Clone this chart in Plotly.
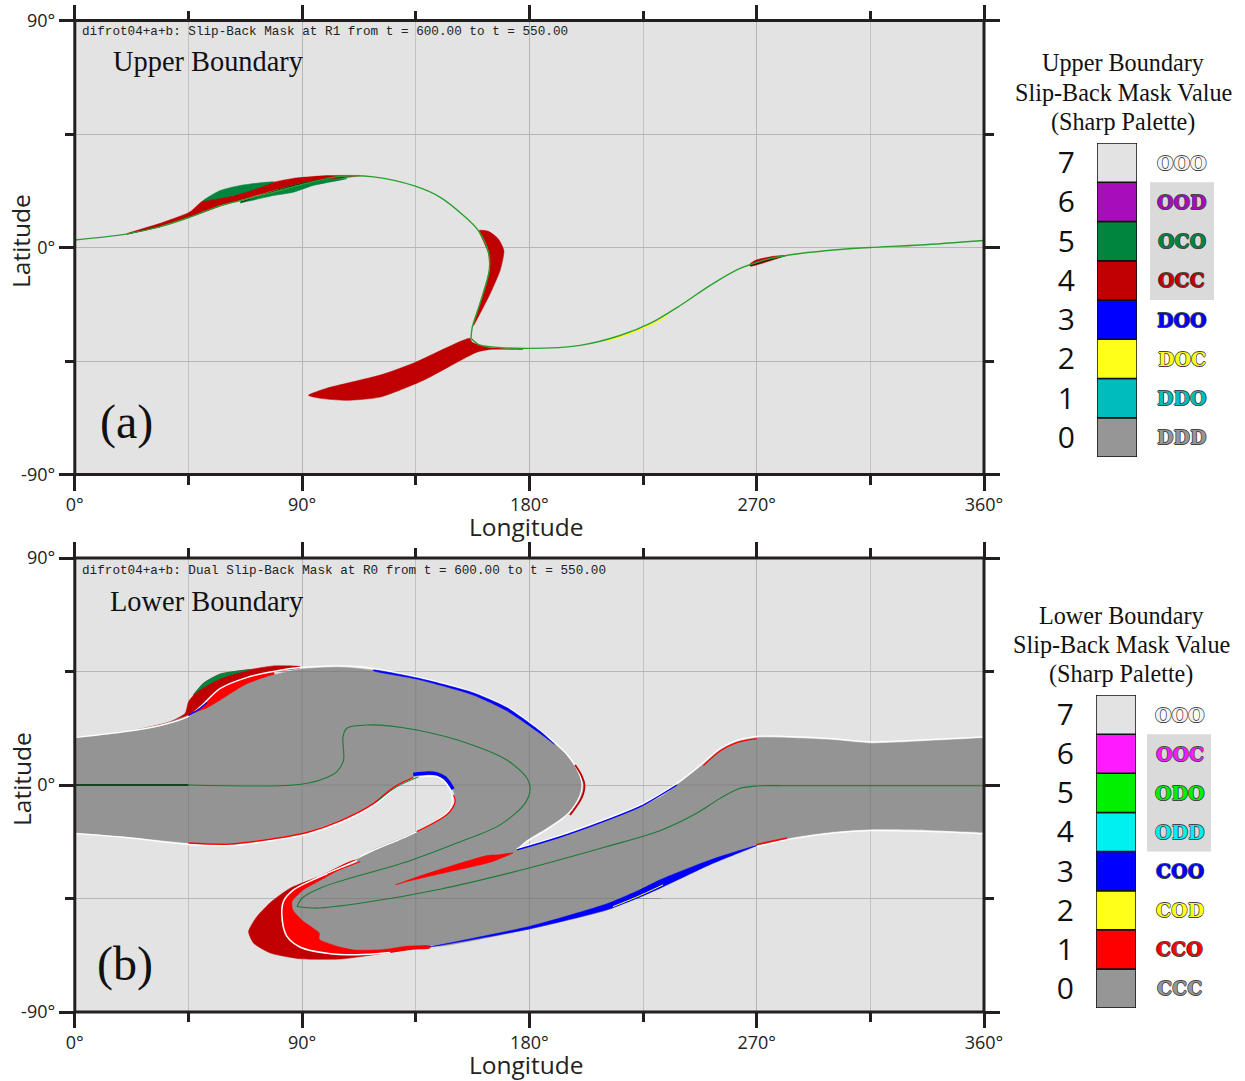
import plotly.graph_objects as go

W, H = 1245, 1081

# ---------- colours ----------
BG = "#e3e3e3"
DARK_RED = "#c00000"
RED = "#ff0000"
DARK_GREEN = "#00853f"
GRAY = "#949494"
BLUE = "#0000ff"
YELLOW = "#ffff1a"
LINE_GREEN = "#2ca02c"
INNER_GREEN = "#1b7a35"

# ---------- legend data ----------
legend_values = [0, 1, 2, 3, 4, 5, 6, 7]
upper_colors = ["#969696", "#00bdbd", "#ffff1a", "#0000ff", "#c00000", "#00853f", "#a80dbb", "#e3e3e3"]
upper_codes = ["DDD", "DDO", "DOC", "DOO", "OCC", "OCO", "OOD", "OOO"]
lower_colors = ["#969696", "#ff0000", "#ffff1a", "#0000ff", "#00f0f0", "#00f000", "#ff1aff", "#e3e3e3"]
lower_codes = ["CCC", "CCO", "COD", "COO", "ODD", "ODO", "OOC", "OOO"]

# ---------- panel (a) ----------
a_line1_lon = [0, 10.1, 20.7, 33.8, 44.9, 57.6, 65.5, 78.6, 89.9, 98, 105.1, 118.3, 134.8, 144.7, 153.9, 159.8, 163.8, 164.1, 160.5, 157.4, 156.9]
a_line1_lat = [3, 4, 5.4, 8.3, 11.8, 16.6, 18.6, 21.9, 25, 26.9, 28.2, 28, 24.3, 19.9, 12.7, 6.7, -1.9, -9, -22, -31.5, -36]
a_line2_lon = [156.9, 159.7, 163.3, 180.3, 200.1, 215.9, 227.8, 239.7, 251.6, 263.4, 275.3, 287.2, 303, 314.9, 334.7, 360]
a_line2_lat = [-36, -38.4, -39.2, -40, -38.8, -34.9, -30.1, -23, -15, -8.3, -4.4, -2.4, -0.8, 0, 1, 2.8]

a_red_main_lon = [20.7, 33.8, 44.4, 46.4, 50.9, 62.7, 73.4, 78.6, 86.5, 99.8, 113, 106.3, 89.9, 78.6, 65.5, 57.6, 49.7, 44.4, 33.8]
a_red_main_lat = [5.5, 9.6, 13.5, 14.7, 18.6, 20.6, 24.6, 25.9, 27.4, 28.5, 28.5, 27.6, 25.5, 22.6, 18.7, 16.4, 13.5, 11.7, 8.2]
a_green_top_lon = [50.9, 57.6, 65.5, 78.6, 73.4, 62.7]
a_green_top_lat = [18.6, 22.6, 24.6, 26.0, 23.9, 20.6]
a_green_low_lon = [65.5, 78.6, 86.5, 94.4, 107.7, 99.8, 89.9, 78.6]
a_green_low_lat = [17.7, 20.6, 21.9, 24.6, 27.3, 27, 25.5, 22.3]
a_red_mid_lon = [160.1, 163.8, 167.7, 169.9, 168.4, 164.5, 160.5, 157.9, 160.5, 164.2, 163.8, 161.7]
a_red_mid_lat = [6.7, 6.4, 3.4, -1.2, -9.1, -18.2, -26.1, -30.9, -22, -9.1, -2.4, 2.8]
a_red_tail_lon = [92.5, 99.8, 120.9, 134, 156.5, 157.2, 163.2, 177.5, 164.5, 159.2, 137.9, 120.9, 107.7, 97.2]
a_red_tail_lat = [-58.6, -55.8, -50.6, -45.9, -36, -37.5, -39.5, -40.4, -40.4, -41.5, -52.7, -59.3, -60.6, -59.8]
a_red_right_lon = [267.4, 270, 277.3, 281.2, 267.4]
a_red_right_lat = [-6.5, -4.9, -3.4, -3.2, -7.4]
a_black_lon = [65.5, 78.6, 89.9, 99.8]
a_black_lat = [18, 22.2, 25.3, 27.2]
a_black2_lon = [267.4, 275, 281.2]
a_black2_lat = [-7.2, -5, -3.3]
a_black3_lon = [20.7, 33.8]
a_black3_lat = [5.3, 8.3]
a_yellow_lon = [210.6, 222, 234.5]
a_yellow_lat = [-37, -33.2, -27.4]

# ---------- panel (b) ----------
b_gray_lon = [-10, 0, 20.7, 33.8, 45, 52.3, 60.2, 68.2, 78.6, 89.3, 105.1, 118.2, 135.4, 157.7, 171.1, 184.3, 194.8, 200.1, 201.4, 200.4, 196.1, 186.9, 179, 175,
              190.9, 210.7, 223.8, 231.7, 238.4, 247.6, 255.5, 262.1, 270, 280.5, 300.2, 314.9, 331.9, 359, 370,
              370, 359, 337.3, 314.9, 300.2, 284.4, 270, 251.6, 231.7, 223.8, 210.7, 180.3, 144.7, 139.4, 131.5, 122.3, 111.7, 103.6, 97, 97, 90.2, 86.5, 86.2, 90.2, 98.2, 112,
              118.2, 135.4, 147.8, 150.6, 149.8, 143.4, 134, 126.1, 118.2, 105.1, 91.9, 78.6, 61.6, 45, 20.7, 0, -10]
b_gray_lat = [17.8, 18.8, 21.4, 23.8, 27.7, 30.4, 35.2, 40, 43.6, 45.9, 46.7, 45.5, 42.4, 36.4, 30.5, 21.1, 11.9, 4.8, 0, -4.6, -11.1, -17, -21.8, -25.7,
              -21, -13.9, -8.6, -4.9, 0, 7.2, 13.9, 17.1, 18.7, 18.7, 17.8, 16.5, 17.1, 18.5, 18.9,
              -19, -18.7, -17.8, -17.5, -18.5, -20.7, -24, -31.5, -40.9, -44.4, -49.5, -57, -63.9, -63.4, -63.7, -65, -65.3, -63.7, -61.1, -58.7, -53.6, -49.5, -46.2, -42, -37.4, -29.5,
              -25.7, -18.5, -11.1, -6.6, -2, 4, 3.3, -0.7, -7.1, -13.9, -18.5, -21, -23.1, -22.9, -20.5, -18.9, -18.2]

b_dark_crescent_lon = [112.2, 98.5, 85.3, 77.9, 72.1, 68.8, 70.8, 77.4, 89.3, 105.1, 118.3, 134.1, 140.7, 128.8]
b_dark_crescent_lat = [-29.7, -35.6, -40.9, -46.2, -52.2, -58.1, -62.7, -66.6, -68.9, -69, -67.3, -65.1, -64.4, -45.5]
b_white_crescent_lon = [111.7, 97.2, 86.6, 82.6, 82.2, 84, 89.3, 99.8, 111.7, 124.9]
b_white_crescent_lat = [-30, -36.3, -41.6, -46.2, -54.1, -60, -64.3, -66.7, -67.3, -66.4]
b_red_crescent_lon = [111.7, 97.2, 86.6, 82.6, 82.2, 84, 89.3, 99.8, 111.7, 124.9, 134, 140.7, 128.8, 113]
b_red_crescent_lat = [-30, -36.3, -41.6, -46.2, -54.1, -60, -64.3, -66.7, -67.3, -66.4, -64.9, -64.4, -45.5, -35]

b_dark_top_lon = [24.6, 37.8, 43.7, 45, 47, 50.9, 57.6, 69.5, 78.6, 89.3, 89.3, 78.6, 68, 57.6, 49.7, 44.4, 33.8]
b_dark_top_lat = [21.8, 25.1, 28.4, 33, 35.6, 40.3, 44, 45.8, 47.2, 46.9, 46.5, 44.9, 42.4, 38.3, 31, 26.7, 23.6]
b_green_top_lon = [46.8, 50.9, 57.6, 69.5, 61.6, 56.3, 48.4]
b_green_top_lat = [35.6, 40.3, 44, 45.8, 43.6, 41.6, 37]
b_red_top_lon = [44.4, 49.7, 57.6, 68, 78.6, 78.6, 52.3]
b_red_top_lat = [26.7, 31, 38.3, 42.4, 44.9, 37.6, 25.7]
b_white_top_lon = [0.6, 20.7, 33.8, 44.4, 49.7, 57.6, 68, 78.6, 89.3, 113, 135.4, 157.7, 171.1, 184.3, 194.8, 199.6, 200.9, 199.9, 195.6, 186.9, 179, 175]
b_white_top_lat = [18.9, 21.3, 23.6, 26.9, 31, 38.3, 42.6, 45, 46.6, 46.9, 42.8, 36.8, 30.9, 21.5, 12.2, 4.8, 0, -4.6, -11.1, -17.6, -22.4, -25.7]
b_blue_top_lon = [118.2, 135.4, 157.7, 171.1, 184.3, 190, 184.3, 171.1, 157.7, 135.4, 118.2]
b_blue_top_lat = [45.6, 42.5, 36.6, 30.7, 21.3, 16.1, 20.4, 29.4, 35.7, 42, 45.3]
b_blue_small_lon = [45, 49, 52.3]
b_blue_small_lat = [27.5, 30, 32.6]
b_tip_lon = [198.1, 200.5, 201.8, 200.8, 196.1]
b_tip_lat = [7.9, 4, 0, -4.8, -11.9]

b_red_low_lon = [45, 61.6, 78.6, 91.9, 105.1, 118.2, 126.1, 134]
b_red_low_lat = [-23, -23.4, -21.3, -18.8, -14.2, -7.4, -1, 3]
b_white_low_lon = [0, 20.7, 45, 61.6, 78.6, 91.9, 105.1, 118.2, 126.1]
b_white_low_lat = [-19.2, -20.9, -23.6, -24.1, -22, -19.6, -15, -8.2, -1.7]
b_hole_green_lon = [119.6, 127.5, 136]
b_hole_green_lat = [-6.6, -0.7, 3.2]
b_hole_blue_lon = [134, 140, 143.4, 146.6, 149.8]
b_hole_blue_lat = [4.2, 4.8, 4.4, 2.8, -1.6]
b_hole_white_lon = [136.7, 144.6, 148.6, 149.4, 147.4, 135.2, 118, 113]
b_hole_white_lat = [3.2, 2.8, -2, -6.7, -11.1, -18.6, -26, -28.4]
b_hole_red_lon = [150, 150.6, 147.8, 135.4]
b_hole_red_lat = [-4, -6.7, -11.3, -18.5]

b_blue_edge_lon = [175, 190.9, 210.7, 223.8, 238.4]
b_blue_edge_lat = [-25.7, -21, -13.9, -8.6, 0]
b_white_edge_lon = [175, 190.9, 210.7, 223.8, 238.4, 247.6, 255.5, 262.1, 270, 280.5, 300.2, 314.9, 331.9, 360]
b_white_edge_lat = [-25.2, -20.3, -13.2, -7.9, 0.6, 7.8, 14.5, 17.7, 19.3, 19.3, 18.4, 17.1, 17.7, 19.1]
b_white_bottom_lon = [270, 284.4, 300.2, 314.9, 337.3, 360]
b_white_bottom_lat = [-24.5, -21.3, -19.1, -18.1, -18.4, -19.4]
b_red_shoulder_lon = [248.9, 255.5, 262.1, 270]
b_red_shoulder_lat = [7.7, 13.5, 16.8, 18.4]
b_blue_low_lon = [140.7, 180.3, 210.7, 223.8, 231.7, 251.6, 270, 251.6, 231.7, 223.8, 210.7, 180.3]
b_blue_low_lat = [-64.2, -57, -49.5, -44.4, -40.9, -31.5, -24, -29.7, -37.6, -41.5, -47.1, -56]
b_yellow_low_lon = [213.1, 222, 232.9]
b_yellow_low_lat = [-48.2, -44.6, -39.6]
b_red_right_lon = [270, 282]
b_red_right_lat = [-23.6, -21]
b_wedge_lon = [126.9, 138.1, 163.2, 167.7, 173.6, 167.1, 163.2, 144.7, 131.5]
b_wedge_lat = [-39.6, -35.6, -28, -27.7, -26.9, -29.7, -31, -35.2, -38.3]
b_sliver_lon = [100, 113]
b_sliver_lat = [-35.4, -30.4]

b_core_dark_lon = [0, 45]
b_core_dark_lat = [0, 0]
b_core1_lon = [45, 86.5, 97.2, 103.8, 106.4, 106.2, 107.7, 115.7, 135.4, 157.7, 171.1, 179, 180.3, 178.4, 168.4, 151.3, 131.5, 98.5, 89.9, 88]
b_core1_lat = [0, 0, 2, 5.3, 9.9, 19.1, 22.5, 23.8, 21.8, 15.8, 9.9, 2.8, -1.2, -7.1, -15.8, -23, -30.4, -40.3, -44.9, -48.2]
b_core2_lon = [88, 95.9, 114.2, 144.6, 179.9, 210.7, 231.7, 246.2, 255.5, 263.4, 270, 287.2, 360]
b_core2_lat = [-48.2, -48.8, -46.7, -41.3, -32.9, -24.4, -18.1, -11.2, -5.3, -1.3, -0.4, -0.3, -0.3]

grid_over_lon = [45, 45, None, 90, 90, None, 90, 90, None, 135, 135, None, 135, 135, None, 180, 180, None, 180, 180, None, 225, 225, None, 270, 270, None, 315, 315, None,
                 0, 126, None, 150, 201, None, 238, 360, None, 87, 232, None, 80, 118]
grid_over_lat = [-22.9, 27.7, None, -18.5, 46, None, -41.5, -53, None, 4.5, 42.4, None, -18.8, -63.5, None, -21.5, 21.5, None, -26, -57, None, -8, -44, None, 18.7, -24, None, 16.5, -17.5, None,
                 0, 0, None, 0, 0, None, 0, 0, None, -45, -45, None, 45, 45]

# ---------- text ----------
xticks = [0, 90, 180, 270, 360]
xticklabels = ["0°", "90°", "180°", "270°", "360°"]
yticks = [-90, 0, 90]
yticklabels = ["-90°", "0°", "90°"]
header_a = "difrot04+a+b: Slip-Back Mask at R1 from t = 600.00 to t = 550.00"
header_b = "difrot04+a+b: Dual Slip-Back Mask at R0 from t = 600.00 to t = 550.00"
legend_title_a = ["Upper Boundary", "Slip-Back Mask Value", "(Sharp Palette)"]
legend_title_b = ["Lower Boundary", "Slip-Back Mask Value", "(Sharp Palette)"]

fig = go.Figure()


def poly(lon, lat, color, ax, smooth=True):
    fig.add_trace(go.Scatter(x=lon + lon[:1], y=lat + lat[:1], mode="lines", fill="toself", fillcolor=color,
                             line=dict(color=color, width=0.5, shape="spline" if smooth else "linear", smoothing=0.6),
                             xaxis=ax[0], yaxis=ax[1], hoverinfo="skip", showlegend=False))


def line(lon, lat, color, width, ax, smooth=True):
    fig.add_trace(go.Scatter(x=lon, y=lat, mode="lines",
                             line=dict(color=color, width=width, shape="spline" if smooth else "linear", smoothing=0.9),
                             xaxis=ax[0], yaxis=ax[1], hoverinfo="skip", showlegend=False, connectgaps=False))


A = ("x", "y")
B = ("x2", "y2")

# panel (a)
poly(a_red_main_lon, a_red_main_lat, DARK_RED, A)
poly(a_green_top_lon, a_green_top_lat, DARK_GREEN, A)
poly(a_green_low_lon, a_green_low_lat, DARK_GREEN, A)
poly(a_red_mid_lon, a_red_mid_lat, DARK_RED, A)
poly(a_red_tail_lon, a_red_tail_lat, DARK_RED, A)
poly(a_red_right_lon, a_red_right_lat, DARK_RED, A)
line(a_yellow_lon, a_yellow_lat, YELLOW, 1.5, A)
line(a_black_lon, a_black_lat, "#111111", 1, A)
line(a_black2_lon, a_black2_lat, "#111111", 1, A)
line(a_black3_lon, a_black3_lat, "#111111", 1, A)
line(a_line1_lon, a_line1_lat, LINE_GREEN, 1.4, A)
line(a_line2_lon, a_line2_lat, LINE_GREEN, 1.4, A)

# panel (b)
poly(b_dark_crescent_lon, b_dark_crescent_lat, DARK_RED, B)
poly(b_red_crescent_lon, b_red_crescent_lat, RED, B)
poly(b_dark_top_lon, b_dark_top_lat, DARK_RED, B)
poly(b_green_top_lon, b_green_top_lat, DARK_GREEN, B)
poly(b_red_top_lon, b_red_top_lat, RED, B)
poly(b_gray_lon, b_gray_lat, GRAY, B)
line(grid_over_lon, grid_over_lat, "rgba(120,120,120,0.55)", 1, B, smooth=False)
poly(b_blue_low_lon, b_blue_low_lat, BLUE, B)
poly(b_wedge_lon, b_wedge_lat, RED, B)
line(b_white_crescent_lon, b_white_crescent_lat, "white", 1.6, B)
line(b_white_top_lon, b_white_top_lat, "white", 1.4, B)
poly(b_blue_top_lon, b_blue_top_lat, BLUE, B)
line(b_blue_small_lon, b_blue_small_lat, BLUE, 1.5, B)
line(b_tip_lon, b_tip_lat, DARK_RED, 1.8, B)
line(b_white_low_lon, b_white_low_lat, "white", 1.3, B)
line(b_red_low_lon, b_red_low_lat, RED, 1.5, B)
line(b_hole_white_lon, b_hole_white_lat, "white", 1.2, B)
line(b_hole_green_lon, b_hole_green_lat, DARK_GREEN, 1, B)
line(b_hole_blue_lon, b_hole_blue_lat, BLUE, 3.5, B)
line(b_hole_red_lon, b_hole_red_lat, RED, 1.2, B)
line(b_white_edge_lon, b_white_edge_lat, "white", 1.2, B)
line(b_white_bottom_lon, b_white_bottom_lat, "white", 1.2, B)
line(b_blue_edge_lon, b_blue_edge_lat, BLUE, 1.4, B)
line(b_red_shoulder_lon, b_red_shoulder_lat, RED, 1.2, B)
line(b_yellow_low_lon, b_yellow_low_lat, YELLOW, 1, B)
line(b_red_right_lon, b_red_right_lat, RED, 1.5, B)
line(b_sliver_lon, b_sliver_lat, RED, 1, B)
line(b_core_dark_lon, b_core_dark_lat, "#17421f", 2, B, smooth=False)
line(b_core1_lon, b_core1_lat, INNER_GREEN, 1.1, B)
line(b_core2_lon, b_core2_lat, INNER_GREEN, 1.1, B)

# legends as stacked bars
for colors, xa, ya in ((upper_colors, "x3", "y3"), (lower_colors, "x4", "y4")):
    fig.add_trace(go.Bar(x=[0] * 8, y=[1] * 8, base=legend_values, width=1, marker=dict(color=colors, line=dict(color="#111111", width=1.5)),
                         xaxis=xa, yaxis=ya, hoverinfo="skip", showlegend=False))


def px(x):
    return x / W


def py(y):
    return 1 - y / H


AXC = "#231f20"
TICKFONT = dict(family="Open Sans", size=18, color="#222222")


def xax(dom_lo, dom_hi, anchor):
    return dict(domain=[px(dom_lo), px(dom_hi)], range=[0, 360], anchor=anchor, tickmode="array", tickvals=xticks, ticktext=xticklabels,
                ticks="outside", ticklen=15, tickwidth=3, tickcolor=AXC, mirror="ticks", showline=False, zeroline=False, automargin=False,
                showgrid=True, gridcolor="#b6b6b6", gridwidth=1, tickfont=TICKFONT, ticklabelstandoff=-1,
                minor=dict(tickmode="array", tickvals=[45, 135, 225, 315], ticks="outside", ticklen=9, tickwidth=3, tickcolor=AXC,
                           showgrid=True, gridcolor="#c2c2c2", gridwidth=1.2))


def yax(dom_lo, dom_hi, anchor):
    return dict(domain=[py(dom_hi), py(dom_lo)], range=[-90, 90], anchor=anchor, tickmode="array", tickvals=yticks, ticktext=yticklabels,
                ticks="outside", ticklen=15, tickwidth=3, tickcolor=AXC, mirror="ticks", showline=False, zeroline=False, automargin=False,
                showgrid=True, gridcolor="#b6b6b6", gridwidth=1, tickfont=TICKFONT,
                minor=dict(tickmode="array", tickvals=[-45, 45], ticks="outside", ticklen=9, tickwidth=3, tickcolor=AXC,
                           showgrid=True, gridcolor="#b6b6b6", gridwidth=1))


def legend_x(lo, hi, anchor):
    return dict(domain=[px(lo), px(hi)], range=[-0.5, 0.5], anchor=anchor, visible=False, automargin=False)


def legend_y(top, bottom, anchor):
    return dict(domain=[py(bottom), py(top)], range=[0, 8], anchor=anchor, showgrid=False, zeroline=False, showline=False, ticks="", automargin=False,
                tickmode="array", tickvals=[v + 0.5 for v in legend_values], ticktext=[str(v) for v in legend_values],
                tickfont=dict(family="Open Sans", size=30, color="#111111"), ticklabelstandoff=21)


annots = []


def note(x, y, text, font, **kw):
    annots.append(dict(x=px(x), y=py(y), xref="paper", yref="paper", text=text, showarrow=False, font=font,
                       xanchor=kw.pop("xanchor", "center"), yanchor="middle", **kw))


SERIF = "Liberation Serif"
note(80, 32, header_a, dict(family="Liberation Mono", size=12.66, color="#222222"), xanchor="left")
note(80, 570, header_b, dict(family="Liberation Mono", size=12.66, color="#222222"), xanchor="left")
note(208, 62, "Upper Boundary", dict(family=SERIF, size=28.4, color="#111111"))
note(206.5, 601, "Lower Boundary", dict(family=SERIF, size=28.4, color="#111111"))
note(126.5, 422, "(a)", dict(family=SERIF, size=48, color="#111111"))
note(125, 964, "(b)", dict(family=SERIF, size=48, color="#111111"))
for yy in (526, 1064):
    note(526.5, yy, "Longitude", dict(family="Open Sans", size=24.5, color="#222222"))
for yy in (241, 779):
    note(21, yy, "Latitude", dict(family="Open Sans", size=24.5, color="#222222"), textangle=-90)
for i, yy in enumerate((63, 92.5, 122)):
    note(1123, yy, legend_title_a[i], dict(family=SERIF, size=24.2, color="#111111"))
for i, yy in enumerate((615, 644, 674)):
    note(1121, yy, legend_title_b[i], dict(family=SERIF, size=24.2, color="#111111"))


def outline(c):
    return ",".join(f"{a}px {b}px 0.5px {c}" for a, b in ((0.7, 0), (-0.7, 0), (0, 0.7), (0, -0.7)))


for codes, colors, ya, cx in ((upper_codes, upper_colors, "y3", 1181.5), (lower_codes, lower_colors, "y4", 1179.5)):
    for v, code, c in zip(legend_values, codes, colors):
        annots.append(dict(x=px(cx), y=v + 0.5, xref="paper", yref=ya, text=f"<b>{code}</b>", showarrow=False,
                           xanchor="center", yanchor="middle",
                           font=dict(family="DejaVu Serif", size=19, color=c if c != "#e3e3e3" else "#f4f4f4", shadow=outline("#444444"))))

shapes = [
    dict(type="rect", xref="paper", yref="paper", x0=px(74.8), x1=px(984), y0=py(474.5), y1=py(20.5), line=dict(color=AXC, width=3), layer="above"),
    dict(type="rect", xref="paper", yref="paper", x0=px(74.8), x1=px(984), y0=py(1012), y1=py(558), line=dict(color=AXC, width=3), layer="above"),
    dict(type="rect", xref="paper", yref="y3", x0=px(1150), x1=px(1214), y0=4, y1=7, fillcolor="#dadada", line=dict(width=0), layer="below"),
    dict(type="rect", xref="paper", yref="y4", x0=px(1147), x1=px(1211), y0=4, y1=7, fillcolor="#dadada", line=dict(width=0), layer="below"),
]

fig.update_layout(
    width=W, height=H, margin=dict(l=0, r=0, t=0, b=0, autoexpand=False), paper_bgcolor="white", plot_bgcolor=BG,
    showlegend=False, barmode="overlay", annotations=annots, shapes=shapes,
    xaxis=xax(74.8, 984, "y"), yaxis=yax(20.5, 474.5, "x"),
    xaxis2=xax(74.8, 984, "y2"), yaxis2=yax(558, 1012, "x2"),
    xaxis3=legend_x(1097, 1137, "y3"), yaxis3=legend_y(143, 457, "x3"),
    xaxis4=legend_x(1096, 1136, "y4"), yaxis4=legend_y(695, 1008, "x4"),
)

fig.write_html("out.html", post_script="document.body.style.margin='0';", config=dict(displayModeBar=False))
